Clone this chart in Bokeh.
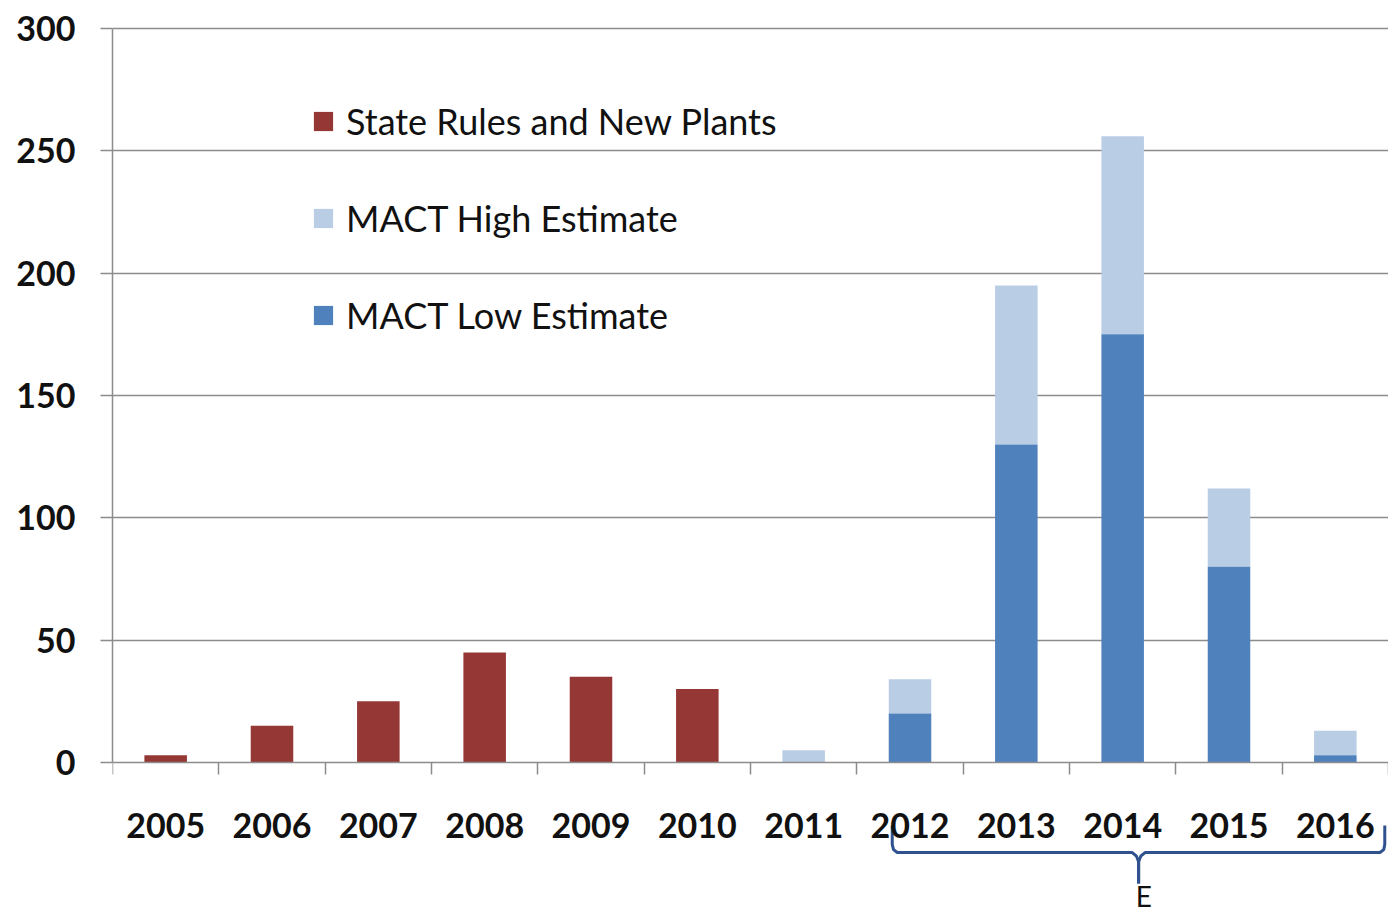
import numpy as np
from bokeh.plotting import figure
from bokeh.models import (LinearAxis, FixedTicker, Range1d, Legend, LegendItem,
                          Label, Grid)
from bokeh.embed import file_html
from bokeh.resources import INLINE

# ---- data ----
years = ["2005", "2006", "2007", "2008", "2009", "2010",
         "2011", "2012", "2013", "2014", "2015", "2016"]
state_rules = [3, 15, 25, 45, 35, 30, 0, 0, 0, 0, 0, 0]
mact_low = [0, 0, 0, 0, 0, 0, 0, 20, 130, 175, 80, 3]
mact_high = [0, 0, 0, 0, 0, 0, 5, 34, 195, 256, 112, 13]
y_ticks = [0, 50, 100, 150, 200, 250, 300]

RED = "#953735"
LIGHT = "#B9CDE5"
BLUE = "#4F81BD"
GRAY = "#8C8C8C"
FONT = "Lato"

idx = np.arange(len(years))

p = figure(width=1388, height=914,
           x_range=Range1d(-0.5, len(years) - 0.5),
           y_range=Range1d(-62.12, 301.63),
           output_backend="svg", toolbar_location=None,
           x_axis_location=None, y_axis_location=None,
           min_border_left=112, min_border_right=0,
           min_border_top=24, min_border_bottom=0)
p.outline_line_color = None
p.xgrid.visible = False
p.ygrid.visible = False

grid = Grid(dimension=1, ticker=FixedTicker(ticks=y_ticks[1:]),
            grid_line_color=GRAY, grid_line_width=1.5)
p.add_layout(grid, "center")

yaxis = LinearAxis(ticker=FixedTicker(ticks=y_ticks), bounds=(0, 300),
                   major_tick_out=12, major_tick_in=0,
                   minor_tick_out=0, minor_tick_in=0,
                   axis_line_color=GRAY, axis_line_width=1.5,
                   major_tick_line_color=GRAY, major_tick_line_width=1.5,
                   major_label_standoff=25,
                   major_label_text_font=FONT,
                   major_label_text_font_style="bold",
                   major_label_text_font_size="34px",
                   major_label_text_color="#111111")
p.add_layout(yaxis, "left")

# boundary tick marks along the x axis
xtick_axis = LinearAxis(ticker=FixedTicker(ticks=list(idx - 0.5) + [len(years) - 0.5]),
                        fixed_location=0,
                        major_tick_out=12, major_tick_in=0,
                        minor_tick_out=0, minor_tick_in=0,
                        axis_line_color=GRAY, axis_line_width=1.5,
                        major_tick_line_color=GRAY, major_tick_line_width=1.5,
                        major_label_text_color=None)
p.add_layout(xtick_axis, "below")

# category labels
xlabel_axis = LinearAxis(ticker=FixedTicker(ticks=list(idx)),
                         fixed_location=0,
                         major_label_overrides={int(i): y for i, y in zip(idx, years)},
                         axis_line_color=None, major_tick_line_color=None,
                         minor_tick_line_color=None,
                         major_tick_out=0, major_tick_in=0,
                         major_label_standoff=50,
                         major_label_text_font=FONT,
                         major_label_text_font_style="bold",
                         major_label_text_font_size="34px",
                         major_label_text_color="#111111")
p.add_layout(xlabel_axis, "below")

r_state = p.vbar(x=idx, width=0.4, top=state_rules, bottom=0,
                 fill_color=RED, line_color=None)
r_high = p.vbar(x=idx, width=0.4, top=mact_high, bottom=mact_low,
                fill_color=LIGHT, line_color=None)
r_low = p.vbar(x=idx, width=0.4, top=mact_low, bottom=0,
               fill_color=BLUE, line_color=None)

legend = Legend(items=[LegendItem(label="State Rules and New Plants", renderers=[r_state]),
                       LegendItem(label="MACT High Estimate", renderers=[r_high]),
                       LegendItem(label="MACT Low Estimate", renderers=[r_low])],
                location=(199, 576), orientation="vertical",
                padding=0, margin=0, border_line_color=None,
                background_fill_color=None,
                glyph_width=24, glyph_height=24, label_standoff=11,
                label_height=46, spacing=51,
                label_text_font=FONT, label_text_font_size="36px",
                label_text_color="#111111")
p.add_layout(legend, "center")

# curly brace annotation under 2012-2016
BR = "#2F528F"
left_half_x = [6.833, 6.833, 6.845, 6.88, 9.09, 9.13, 9.15, 9.15]
left_half_y = [-25.7, -33.5, -35.6, -36.8, -36.8, -38.3, -40.5, -49.4]
right_half_x = [9.15, 9.15, 9.17, 9.21, 11.42, 11.455, 11.465, 11.465]
right_half_y = [-49.4, -40.5, -38.3, -36.8, -36.8, -35.6, -33.5, -25.7]
p.line(left_half_x, left_half_y, line_color=BR, line_width=3)
p.line(right_half_x, right_half_y, line_color=BR, line_width=3)
p.add_layout(Label(x=9.2, y=-61.7, text="E", text_align="center",
                   text_baseline="bottom", text_font=FONT,
                   text_font_size="28px", text_color="#111111"))

open("out.html", "w").write(file_html(p, INLINE))
